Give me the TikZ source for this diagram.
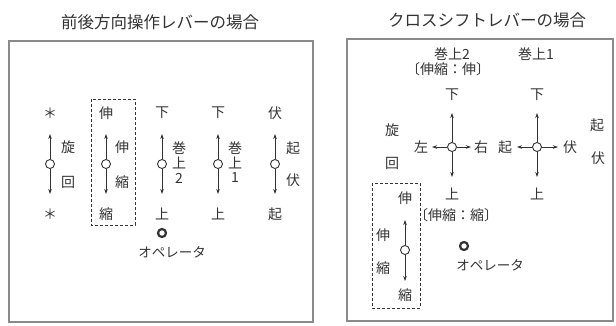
\documentclass[tikz,border=0pt]{standalone}
\usepackage{fontspec}
\setmainfont{Noto Sans CJK JP}
\usetikzlibrary{arrows.meta}
\definecolor{ink}{HTML}{333333}
\definecolor{framec}{HTML}{8A8A8A}
\newcommand\lever[5]{% name, x, y, top label, bottom label
  \node[knob] (#1) at (#2,#3) {};
  \coordinate (#1u) at (#2,#3-30);
  \coordinate (#1d) at (#2,#3+30);
  \node[lab] (#1t) at (#2,#3-51) {#4};
  \node[lab] (#1b) at (#2,#3+50) {#5};
  \draw[arr] (#1) -- (#1u);
  \draw[arr] (#1) -- (#1d);
}
\begin{document}
\begin{tikzpicture}[x=1pt,y=-1pt,
  lab/.style={inner sep=0pt, font=\fontsize{14}{14}\selectfont, text=ink},
  small/.style={inner sep=0pt, font=\fontsize{13.5}{13.5}\selectfont, text=ink},
  ttl/.style={inner sep=0pt, font=\fontsize{16.5}{16.5}\selectfont, text=ink},
  knob/.style={circle, draw=ink, line width=0.9pt, minimum size=9pt, inner sep=0pt},
  op/.style={circle, draw=ink, line width=2.2pt, minimum size=8pt, inner sep=0pt},
  arr/.style={-{Stealth[length=5pt,width=3.5pt]}, draw=ink, line width=0.7pt},
  frame/.style={draw=framec, line width=1.4pt},
  dbox/.style={draw=ink, line width=0.7pt, dash pattern=on 3pt off 2pt}]
\useasboundingbox (0,0) rectangle (616,325);

% titles
\node[ttl] (tl) at (160,22) {前後方向操作レバーの場合};
\node[ttl] (tr) at (487,20) {クロスシフトレバーの場合};

% frames
\draw[frame] (9,41) rectangle (313,322);
\draw[frame] (347,39) rectangle (613,321);

% ---------- left panel ----------
\lever{a}{50}{164}{＊}{＊}
\node[lab] (a1) at (68,147) {旋};
\node[lab] (a2) at (68,182) {回};

\draw[dbox] (91,99) rectangle (135,225);
\lever{b}{106}{164}{伸}{縮}
\node[lab] (b1) at (122,147) {伸};
\node[lab] (b2) at (122,182) {縮};

\lever{c}{162}{164}{下}{上}
\node[lab] (c1) at (179,148) {巻};
\node[lab] (c2) at (179,163) {上};
\node[lab] (c3) at (179,178) {2};

\lever{d}{218}{164}{下}{上}
\node[lab] (d1) at (235,148) {巻};
\node[lab] (d2) at (235,163) {上};
\node[lab] (d3) at (235,178) {1};

\lever{e}{275}{164}{伏}{起}
\node[lab] (e1) at (293,148) {起};
\node[lab] (e2) at (293,180) {伏};

\node[op] (opl) at (162,233) {};
\node[small] (opltxt) at (172,252) {オペレータ};

% ---------- right panel ----------
\node[lab] (w2) at (452,54) {巻上2};
\node[lab] (w1) at (536,54) {巻上1};
\node[lab] (w2e) at (448,69) {〔伸縮：伸〕};

% cross 1
\node[knob] (x1) at (452,147) {};
\coordinate (x1u) at (452,113);
\coordinate (x1d) at (452,177);
\coordinate (x1l) at (432,147);
\coordinate (x1r) at (471,147);
\draw[arr] (x1) -- (x1u);
\draw[arr] (x1) -- (x1d);
\draw[arr] (x1) -- (x1l);
\draw[arr] (x1) -- (x1r);
\node[lab] (x1t) at (452,95) {下};
\node[lab] (x1b) at (452,194) {上};
\node[lab] (x1lt) at (421,147) {左};
\node[lab] (x1rt) at (481,147) {右};
\node[lab] (s1) at (392,130) {旋};
\node[lab] (s2) at (392,163) {回};
\node[lab] (x1e) at (456,215) {〔伸縮：縮〕};

% cross 2
\node[knob] (x2) at (537,147) {};
\coordinate (x2u) at (537,113);
\coordinate (x2d) at (537,177);
\coordinate (x2l) at (517,147);
\coordinate (x2r) at (558,147);
\draw[arr] (x2) -- (x2u);
\draw[arr] (x2) -- (x2d);
\draw[arr] (x2) -- (x2l);
\draw[arr] (x2) -- (x2r);
\node[lab] (x2t) at (537,95) {下};
\node[lab] (x2b) at (537,194) {上};
\node[lab] (x2lt) at (505,147) {起};
\node[lab] (x2rt) at (570,147) {伏};
\node[lab] (k1) at (597,125) {起};
\node[lab] (k2) at (598,158) {伏};

% telescope lever
\draw[dbox] (372,183) rectangle (420,308);
\node[knob] (y) at (405,250) {};
\coordinate (yu) at (405,220);
\coordinate (yd) at (405,281);
\draw[arr] (y) -- (yu);
\draw[arr] (y) -- (yd);
\node[lab] (yt) at (405,198) {伸};
\node[lab] (yb) at (405,295) {縮};
\node[lab] (y1) at (383,235) {伸};
\node[lab] (y2) at (383,268) {縮};

\node[op] (opr) at (464,246) {};
\node[small] (oprtxt) at (490,265) {オペレータ};
\end{tikzpicture}
\end{document}
